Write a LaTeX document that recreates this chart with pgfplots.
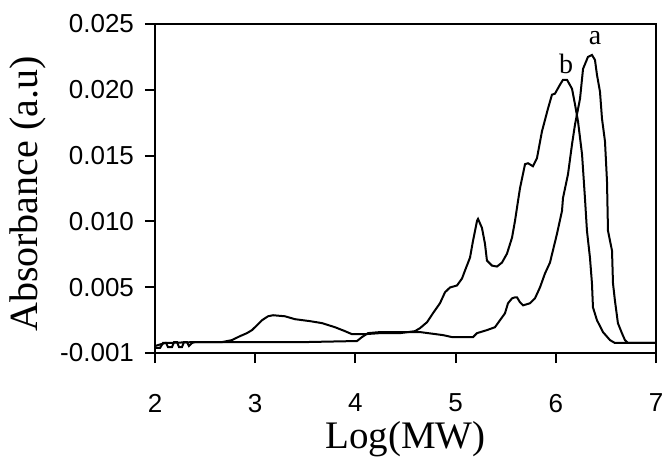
\documentclass[border=0pt]{standalone}
\usepackage{pgfplots}
\pgfplotsset{compat=1.18}
\usepackage{fontspec}
\setmainfont{Liberation Sans}
\newfontfamily\serif{Liberation Serif}

\pgfplotstableread{
x y
2.000 0.00038
2.050 0.00038
2.080 0.00076
2.110 0.00076
2.130 0.00045
2.170 0.00045
2.190 0.00083
2.220 0.00083
2.240 0.00045
2.269 0.00045
2.289 0.00083
2.319 0.00083
2.339 0.00053
2.369 0.00076
2.399 0.00083
2.669 0.00083
2.768 0.00098
2.848 0.00128
2.918 0.00151
2.968 0.00174
3.018 0.00211
3.068 0.00249
3.128 0.00279
3.178 0.00287
3.297 0.00279
3.397 0.00257
3.547 0.00242
3.667 0.00227
3.796 0.00196
3.896 0.00166
3.966 0.00143
4.096 0.00143
4.246 0.00151
4.445 0.00151
4.595 0.00166
4.645 0.00189
4.715 0.00234
4.774 0.00302
4.844 0.00378
4.894 0.00461
4.944 0.00498
5.014 0.00513
5.064 0.00566
5.094 0.00627
5.144 0.00725
5.174 0.00853
5.214 0.01004
5.224 0.01019
5.263 0.00951
5.293 0.00831
5.313 0.00702
5.363 0.00664
5.413 0.00657
5.463 0.00687
5.513 0.00755
5.563 0.00876
5.593 0.01004
5.623 0.01155
5.643 0.01253
5.693 0.01435
5.723 0.01442
5.772 0.01419
5.812 0.01480
5.862 0.01684
5.922 0.01857
5.962 0.01963
5.992 0.01971
6.042 0.02039
6.072 0.02076
6.112 0.02076
6.162 0.02008
6.192 0.01888
6.222 0.01759
6.262 0.01510
6.291 0.01178
6.311 0.00929
6.341 0.00725
6.361 0.00529
6.371 0.00347
6.411 0.00249
6.471 0.00159
6.541 0.00098
6.590 0.00076
7.000 0.00076
}\curveb

\pgfplotstableread{
x y
2.000 0.00053
2.100 0.00076
2.399 0.00083
3.500 0.00083
4.016 0.00091
4.066 0.00121
4.126 0.00151
4.246 0.00159
4.445 0.00159
4.645 0.00159
4.874 0.00136
4.964 0.00121
5.174 0.00121
5.214 0.00151
5.313 0.00174
5.393 0.00196
5.443 0.00249
5.493 0.00302
5.523 0.00378
5.563 0.00415
5.593 0.00423
5.613 0.00423
5.643 0.00385
5.673 0.00362
5.743 0.00378
5.792 0.00415
5.842 0.00498
5.892 0.00604
5.942 0.00687
6.012 0.00906
6.062 0.01080
6.072 0.01178
6.122 0.01359
6.162 0.01586
6.192 0.01737
6.242 0.01933
6.272 0.02159
6.321 0.02250
6.361 0.02265
6.391 0.02227
6.411 0.02114
6.441 0.01986
6.461 0.01782
6.491 0.01608
6.511 0.01306
6.521 0.00929
6.561 0.00778
6.571 0.00529
6.590 0.00400
6.620 0.00227
6.660 0.00151
6.690 0.00098
6.720 0.00076
7.000 0.00076
}\curvea

\begin{document}
\begin{tikzpicture}
\useasboundingbox (-77.5pt,-54pt) rectangle (255.5pt,176.5pt);
\begin{axis}[
  scale only axis,
  width=250.5pt, height=164.5pt,
  xmin=2, xmax=7,
  ymin=0, ymax=0.025,
  xtick={2,3,4,5,6,7},
  xticklabels={2,3,4,5,6,7},
  ytick={0,0.005,0.010,0.015,0.020,0.025},
  yticklabels={-0.001,0.005,0.010,0.015,0.020,0.025},
  scaled y ticks=false,
  xtick pos=left, ytick pos=left,
  tick align=outside,
  major tick length=5pt,
  axis line style={line width=1pt},
  tick style={line width=1pt, black},
  /pgf/number format/assume math mode=true,
  tick label style={font=\fontsize{13}{13}\selectfont},
  xticklabel style={yshift=-12pt},
  yticklabel style={xshift=-2pt},
  xlabel={\serif Log(MW)},
  ylabel={\serif Absorbance (a.u)},
  xlabel style={font=\fontsize{19.5}{19.5}\selectfont,
    at={(axis description cs:0.5,-0.262)}, anchor=center},
  ylabel style={font=\fontsize{20}{20}\selectfont,
    at={(axis description cs:-0.2535,0.483)}, anchor=center},
  clip=false,
]
\addplot[black, line width=1pt] table {\curvea};
\addplot[black, line width=1pt] table {\curveb};
\node[font=\serif\fontsize{14}{14}\selectfont] at (axis cs:6.391,0.02390) {a};
\node[font=\serif\fontsize{14}{14}\selectfont] at (axis cs:6.102,0.02200) {b};
\end{axis}
\end{tikzpicture}
\end{document}
